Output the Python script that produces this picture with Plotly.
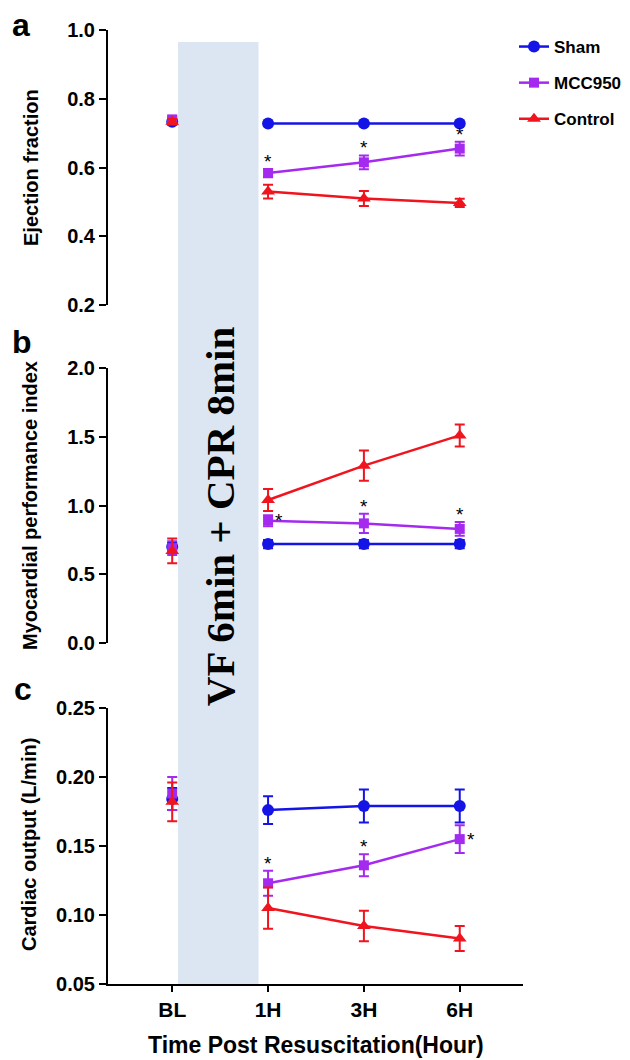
import plotly.graph_objects as go

W, H = 630, 1060

categories = ["BL", "1H", "3H", "6H"]
series_names = ["Sham", "MCC950", "Control"]
series_colors = {"Sham": "#1414e6", "MCC950": "#a52af0", "Control": "#f0141e"}
series_symbols = {"Sham": "circle", "MCC950": "square", "Control": "triangle-up"}

# Panel a: Ejection fraction
ef_mean = {
    "Sham":    [0.733, 0.728, 0.728, 0.728],
    "MCC950":  [0.740, 0.584, 0.615, 0.655],
    "Control": [0.733, 0.530, 0.510, 0.497],
}
ef_err = {
    "Sham":    [0.008, 0.005, 0.005, 0.005],
    "MCC950":  [0.008, 0.012, 0.020, 0.020],
    "Control": [0.008, 0.020, 0.022, 0.012],
}
# Panel b: Myocardial performance index
mpi_mean = {
    "Sham":    [0.70, 0.72, 0.72, 0.72],
    "MCC950":  [0.69, 0.89, 0.87, 0.83],
    "Control": [0.67, 1.04, 1.29, 1.51],
}
mpi_err = {
    "Sham":    [0.03, 0.03, 0.03, 0.03],
    "MCC950":  [0.05, 0.04, 0.07, 0.05],
    "Control": [0.09, 0.08, 0.11, 0.08],
}
# Panel c: Cardiac output
co_mean = {
    "Sham":    [0.184, 0.176, 0.179, 0.179],
    "MCC950":  [0.188, 0.123, 0.136, 0.155],
    "Control": [0.182, 0.105, 0.092, 0.083],
}
co_err = {
    "Sham":    [0.008, 0.010, 0.012, 0.012],
    "MCC950":  [0.012, 0.009, 0.008, 0.010],
    "Control": [0.014, 0.015, 0.011, 0.009],
}
# significance markers (MCC950): category -> placement
sig_a = {"1H": "top", "3H": "top", "6H": "top"}
sig_b = {"1H": "right", "3H": "top", "6H": "top"}
sig_c = {"1H": "top", "3H": "top", "6H": "right"}

y_titles = ["Ejection fraction", "Myocardial performance index", "Cardiac output (L/min)"]
panel_letters = ["a", "b", "c"]
x_title = "Time Post Resuscitation(Hour)"
band_label = "VF 6min + CPR 8min"

panels = [
    (ef_mean, ef_err, sig_a, [0.2, 1.0], 0.2, ".1f"),
    (mpi_mean, mpi_err, sig_b, [0.0, 2.0], 0.5, ".1f"),
    (co_mean, co_err, sig_c, [0.05, 0.25], 0.05, ".2f"),
]

def px_y(p):
    return 1 - p / H

def px_x(p):
    return p / W

ydomains = [
    [px_y(305), px_y(30)],
    [px_y(643), px_y(368)],
    [px_y(984), px_y(708)],
]
xdomain = [px_x(108), px_x(523)]
xrange_ = [-0.67, 3.66]

fig = go.Figure()
annotations = []
fontfam = "Liberation Sans, Arial, sans-serif"

for i, (mean, err, sig, yr, dt, fmt) in enumerate(panels):
    k = i + 1
    xa = "x" if k == 1 else f"x{k}"
    ya = "y" if k == 1 else f"y{k}"
    for name in series_names:
        col = series_colors[name]
        sym = series_symbols[name]
        msize = 12 if name != "MCC950" else 10
        fig.add_trace(go.Scatter(
            x=categories[:1], y=mean[name][:1],
            error_y=dict(type="data", array=err[name][:1], color=col, thickness=2, width=5),
            mode="markers", marker=dict(color=col, symbol=sym, size=msize),
            xaxis=xa, yaxis=ya, showlegend=False, legendgroup=name, name=name,
        ))
        fig.add_trace(go.Scatter(
            x=categories[1:], y=mean[name][1:],
            error_y=dict(type="data", array=err[name][1:], color=col, thickness=2, width=5),
            mode="lines+markers", line=dict(color=col, width=2.5),
            marker=dict(color=col, symbol=sym, size=msize),
            xaxis=xa, yaxis=ya, showlegend=(k == 1), legendgroup=name, name=name,
        ))
    for cat, place in sig.items():
        j = categories.index(cat)
        m = mean["MCC950"][j]
        e = err["MCC950"][j]
        if place == "top":
            annotations.append(dict(x=cat, y=m + e, xref=xa, yref=ya, text="*",
                                    showarrow=False, xanchor="center", yanchor="bottom", yshift=-5,
                                    font=dict(size=19, color="black", family=fontfam)))
        else:
            annotations.append(dict(x=cat, y=m, xref=xa, yref=ya, text="*",
                                    showarrow=False, xanchor="left", yanchor="middle",
                                    xshift=5, yshift=0,
                                    font=dict(size=19, color="black", family=fontfam)))
    fig.update_layout(**{
        ("xaxis" if k == 1 else f"xaxis{k}"): dict(
            domain=xdomain, range=xrange_, type="category",
            showline=(k == 3), linecolor="black", linewidth=2,
            ticks="outside" if k == 3 else "", ticklen=6, tickwidth=2, tickcolor="black",
            showticklabels=(k == 3), showgrid=False, zeroline=False,
            tickfont=dict(size=21, color="black", family=fontfam, weight="bold"),
            anchor=ya,
        ),
        ("yaxis" if k == 1 else f"yaxis{k}"): dict(
            domain=ydomains[i], range=yr, dtick=dt, tick0=yr[0], tickformat=fmt,
            showline=True, linecolor="black", linewidth=2,
            ticks="outside", ticklen=7, tickwidth=2, tickcolor="black",
            showgrid=False, zeroline=False,
            tickfont=dict(size=20, color="black", family=fontfam, weight="bold"),
            anchor=xa,
        ),
    })

# shaded intervention band spanning all panels
fig.add_shape(type="rect", xref="x3", yref="paper", x0=0.06, x1=0.90,
              y0=px_y(984), y1=px_y(42), fillcolor="#dce6f2", line=dict(width=0),
              layer="below")

annotations.append(dict(x=0.50, xref="x3", y=px_y(516), yref="paper", text=band_label,
                        textangle=-90, showarrow=False, xanchor="center", yanchor="middle",
                        font=dict(size=41, color="black",
                                  family="Liberation Serif, Times New Roman, serif", weight="bold")))

letter_pos = [(21, 25), (22, 342), (23, 689)]
for letter, (lx, ly) in zip(panel_letters, letter_pos):
    annotations.append(dict(x=px_x(lx), y=px_y(ly), xref="paper", yref="paper", text=letter,
                            showarrow=False, xanchor="center", yanchor="middle",
                            font=dict(size=32, color="black", family=fontfam, weight="bold")))

ytitle_pos = [(31, 168), (30, 506), (29, 845)]
for t, (tx, ty) in zip(y_titles, ytitle_pos):
    annotations.append(dict(x=px_x(tx), y=px_y(ty), xref="paper", yref="paper", text=t,
                            textangle=-90, showarrow=False, xanchor="center", yanchor="middle",
                            font=dict(size=20, color="black", family=fontfam, weight="bold")))

annotations.append(dict(x=px_x(316), y=px_y(1045), xref="paper", yref="paper", text=x_title,
                        showarrow=False, xanchor="center", yanchor="middle",
                        font=dict(size=23, color="black", family=fontfam, weight="bold")))

fig.update_layout(
    width=W, height=H,
    margin=dict(l=0, r=0, t=0, b=0, autoexpand=False),
    paper_bgcolor="white", plot_bgcolor="rgba(0,0,0,0)",
    annotations=annotations,
    showlegend=True,
    legend=dict(x=px_x(514), y=px_y(29), xanchor="left", yanchor="top",
                font=dict(size=17, color="black", family=fontfam, weight="bold"),
                tracegroupgap=11, bgcolor="rgba(0,0,0,0)"),
)

fig.write_html("out.html", config={"displayModeBar": False},
               post_script="document.body.style.margin='0';document.body.style.overflow='hidden';")
